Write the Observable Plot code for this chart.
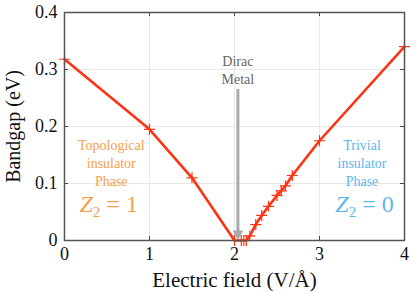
<!DOCTYPE html>
<html><head><meta charset="utf-8">
<script src="https://cdn.jsdelivr.net/npm/d3@7"></script>
<script src="https://cdn.jsdelivr.net/npm/@observablehq/plot@0.6"></script>
<style>
body{margin:0;background:#fff;font-family:"Liberation Serif", serif}
</style>
</head><body><div id="chart"></div>
<script>
// data
const field   = [0, 1, 1.5, 2.0, 2.08, 2.11, 2.14, 2.18, 2.25, 2.32, 2.4, 2.5, 2.55, 2.6, 2.68, 3, 4];
const bandgap = [0.318, 0.195, 0.11, 0, 0, 0, 0, 0.008, 0.028, 0.044, 0.06, 0.079, 0.087, 0.096, 0.114, 0.175, 0.34];
const xTicks = [0, 1, 2, 3, 4];
const yTicks = [0, 0.1, 0.2, 0.3, 0.4];
const xLabel = "Electric field (V/Å)";
const yLabel = "Bandgap (eV)";
const phaseLabels = ["Topological\ninsulator\nPhase", "Trivial\ninsulator\nPhase"];
const phaseX = [0.55, 3.5];
const phaseY = [0.137, 0.137];
const z2Labels = ["Z2 = 1", "Z2 = 0"];
const z2X = [0.52, 3.53];
const z2Y = [0.063, 0.063];
const phaseColors = ["#f6a04c", "#5cb6ee"];
const diracLabel = "Dirac\nMetal";
const diracX = 2.04;
const diracTop = 0.265;
const diracLabelY = 0.30;

const FONT = "Liberation Serif, Times New Roman, serif";
const pts = field.map((x, i) => ({x, y: bandgap[i]}));
const W = 415, H = 292, mL = 64, mR = 11, mT = 12, mB = 52;
const fw = W - mL - mR, fh = H - mT - mB;
const red = "#ff3314";
const inner = xTicks.slice(1, -1), innerY = yTicks.slice(1, -1);

const plusSym = {draw(ctx, size) { const r = Math.sqrt(size / Math.PI); ctx.moveTo(-r, 0); ctx.lineTo(r, 0); ctx.moveTo(0, -r); ctx.lineTo(0, r); }};
const downTri = {draw(ctx, size) { const r = Math.sqrt(size / Math.PI); ctx.moveTo(-r, -1.9 * r); ctx.lineTo(r, -1.9 * r); ctx.lineTo(0, 0); ctx.closePath(); }};

const chart = Plot.plot({
  width: W, height: H,
  marginLeft: mL, marginRight: mR, marginTop: mT, marginBottom: mB,
  style: {fontFamily: FONT, fontSize: "18px", color: "#111", background: "#fff"},
  x: {domain: [0, 4], ticks: xTicks, tickSize: 0, tickPadding: 7, tickFormat: d => String(d), label: null},
  y: {domain: [0, 0.4], ticks: yTicks, tickSize: 0, tickPadding: 7, tickFormat: d => String(d), label: null},
  marks: [
    Plot.ruleX(inner, {stroke: "#e8e8e8", strokeWidth: 1}),
    Plot.ruleY(innerY, {stroke: "#e8e8e8", strokeWidth: 1}),
    Plot.tickX(inner, {x: d => d, insetTop: fh - 4, stroke: "#444"}),
    Plot.tickX(inner, {x: d => d, insetBottom: fh - 4, stroke: "#444"}),
    Plot.tickY(innerY, {y: d => d, insetRight: fw - 4, stroke: "#444"}),
    Plot.tickY(innerY, {y: d => d, insetLeft: fw - 4, stroke: "#444"}),
    Plot.ruleX([diracX], {y1: diracTop, y2: 0.015, stroke: "#aaaaaa", strokeWidth: 3}),
    Plot.dot([diracX], {x: d => d, y: 0, symbol: downTri, r: 5.2, fill: "#aaaaaa", stroke: "none"}),
    Plot.line(pts, {x: "x", y: "y", stroke: red, strokeWidth: 2.6}),
    Plot.dot(pts, {x: "x", y: "y", symbol: plusSym, r: 5.5, fill: "none", stroke: red, strokeWidth: 1.2}),
    Plot.text([diracLabel], {x: diracX, y: diracLabelY, text: d => d, fill: "#666", fontSize: 14, lineHeight: 1.28}),
    Plot.text(phaseLabels, {x: (d, i) => phaseX[i], y: (d, i) => phaseY[i], text: d => d, fill: (d, i) => phaseColors[i], fontSize: 14, lineHeight: 1.3}),
    Plot.text(z2Labels, {x: (d, i) => z2X[i], y: (d, i) => z2Y[i], text: d => d, fill: (d, i) => phaseColors[i], fontSize: 24}),
    Plot.frame({stroke: "#555", strokeWidth: 1.5}),
    Plot.text([xLabel], {frameAnchor: "bottom", dy: 46, text: d => d, fontSize: 21, fill: "#111"}),
    Plot.text([yLabel], {frameAnchor: "left", dx: -51, rotate: -90, textAnchor: "middle", text: d => d, fontSize: 20, fill: "#111"})
  ]
});
document.getElementById("chart").appendChild(chart);

chart.querySelectorAll("text").forEach(t => {
  const s = t.textContent;
  if (s === "Z2 = 1" || s === "Z2 = 0") {
    const tail = s.slice(2);
    t.textContent = "";
    const ns = "http://www.w3.org/2000/svg";
    const a = document.createElementNS(ns, "tspan"); a.setAttribute("font-style", "italic"); a.textContent = "Z";
    const b = document.createElementNS(ns, "tspan"); b.setAttribute("font-size", "15"); b.setAttribute("dy", "5"); b.textContent = "2";
    const c = document.createElementNS(ns, "tspan"); c.setAttribute("dy", "-5"); c.textContent = tail;
    t.append(a, b, c);
  }
});
</script>
</body></html>
